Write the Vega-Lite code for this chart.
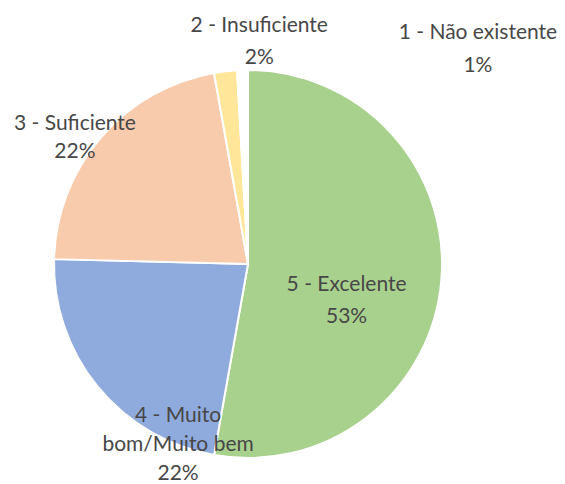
{
  "$schema": "https://vega.github.io/schema/vega-lite/v6.json",
  "width": 496,
  "height": 440,
  "padding": {"left": 0, "top": 44, "right": 69, "bottom": 0},
  "autosize": "none",
  "background": "white",
  "config": {"view": {"stroke": null}},
  "data": {
    "values": [
      {"categoria": "5 - Excelente", "valor": 52.8, "rotulo": "5 - Excelente\n53%"},
      {"categoria": "4 - Muito bom/Muito bem", "valor": 22.6, "rotulo": "4 - Muito\nbom/Muito bem\n22%"},
      {"categoria": "3 - Suficiente", "valor": 21.8, "rotulo": "3 - Suficiente\n22%"},
      {"categoria": "2 - Insuficiente", "valor": 1.9, "rotulo": "2 - Insuficiente\n2%"},
      {"categoria": "1 - Não existente", "valor": 0.9, "rotulo": "1 - Não existente\n1%"}
    ]
  },
  "encoding": {
    "theta": {"field": "valor", "type": "quantitative", "stack": true},
    "order": {"field": "categoria", "sort": "descending"}
  },
  "layer": [
    {
      "mark": {"type": "arc", "outerRadius": 194, "stroke": "white", "strokeWidth": 2},
      "encoding": {
        "color": {
          "field": "categoria",
          "type": "nominal",
          "scale": {
            "domain": ["5 - Excelente", "4 - Muito bom/Muito bem", "3 - Suficiente", "2 - Insuficiente", "1 - Não existente"],
            "range": ["#a9d18e", "#8faadc", "#f8cbad", "#ffe699", "#ffffff"]
          },
          "legend": null
        }
      }
    },
    {
      "mark": {"type": "text", "radius": 110, "dx": -11, "dy": 11, "font": "Lato", "fontSize": 21, "lineHeight": 32, "lineBreak": "\n", "fill": "#474747"},
      "encoding": {"text": {"condition": {"test": "datum.categoria === '5 - Excelente'", "field": "rotulo"}, "value": ""}}
    },
    {
      "mark": {"type": "text", "radius": 160, "dx": 54, "dy": 51, "font": "Lato", "fontSize": 21, "lineHeight": 29, "lineBreak": "\n", "fill": "#474747"},
      "encoding": {"text": {"condition": {"test": "datum.categoria === '4 - Muito bom/Muito bem'", "field": "rotulo"}, "value": ""}}
    },
    {
      "mark": {"type": "text", "radius": 215, "dx": -10, "dy": 0, "font": "Lato", "fontSize": 21, "lineHeight": 28, "lineBreak": "\n", "fill": "#474747"},
      "encoding": {"text": {"condition": {"test": "datum.categoria === '3 - Suficiente'", "field": "rotulo"}, "value": ""}}
    },
    {
      "mark": {"type": "text", "radius": 222, "dx": 37, "dy": -17, "font": "Lato", "fontSize": 21, "lineHeight": 32, "lineBreak": "\n", "fill": "#474747"},
      "encoding": {"text": {"condition": {"test": "datum.categoria === '2 - Insuficiente'", "field": "rotulo"}, "value": ""}}
    },
    {
      "mark": {"type": "text", "radius": 216, "dx": 236, "dy": -15, "font": "Lato", "fontSize": 21, "lineHeight": 33, "lineBreak": "\n", "fill": "#474747"},
      "encoding": {"text": {"condition": {"test": "datum.categoria === '1 - Não existente'", "field": "rotulo"}, "value": ""}}
    }
  ]
}
